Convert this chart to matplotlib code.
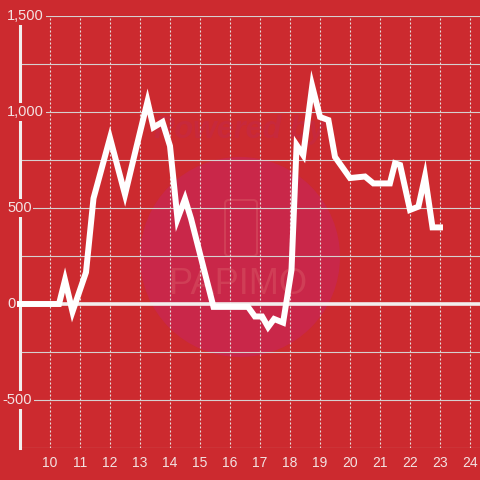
import matplotlib
matplotlib.use('Agg')
import matplotlib.pyplot as plt
import numpy as np
from matplotlib.patches import Circle, FancyBboxPatch

# time of day (hours) and value
hours = [9.0, 10.3, 10.5, 10.75, 11.2, 11.45, 12.0, 12.5, 12.9, 13.25,
         13.45, 13.75, 14.0, 14.25, 14.5, 14.7, 15.45, 16.6, 16.83, 17.07,
         17.27, 17.47, 17.77, 18.05, 18.22, 18.44, 18.74, 19.0, 19.28, 19.5,
         20.0, 20.5, 20.78, 21.33, 21.5, 21.67, 22.0, 22.28, 22.5, 22.75, 23.0]
values = [0, 0, 125, -40, 165, 550, 865, 570, 830, 1055,
          920, 948, 823, 443, 547, 445, -15, -15, -65, -65,
          -120, -78, -97, 177, 828, 776, 1135, 974, 958, 766,
          656, 664, 628, 628, 733, 724, 490, 507, 664, 399, 399]

x_ticks = list(range(10, 25))
y_grid = list(range(-750, 1501, 250))
y_labels = [1500, 1000, 500, 0, -500]

bg = '#cc2a2f'
txt = '#f3e2e2'
plt.rcParams['font.family'] = ['Liberation Sans', 'DejaVu Sans']

fig = plt.figure(figsize=(4.8, 4.8), dpi=100, facecolor=bg)
ax = fig.add_axes([20 / 480, 32 / 480, 460 / 480, 432 / 480], facecolor=bg)
ax.set_xlim(9, 24.3333)
ax.set_ylim(-750, 1500)

# faint watermark behind the grid
ax.add_patch(Circle((240 / 480, 1 - 257 / 480), 100 / 480, transform=fig.transFigure,
                    color='#c92749', lw=0, zorder=0.1, clip_on=False))
ax.add_patch(FancyBboxPatch((225 / 480, 1 - 256 / 480), 32 / 480, 56 / 480,
                            boxstyle='round,pad=0,rounding_size=0.008',
                            transform=fig.transFigure, fill=False,
                            ec='#d03e56', lw=1.5, zorder=0.2, clip_on=False))
ax.text(240 / 480, 1 - 130 / 480, 'Powered by', transform=fig.transFigure,
        fontsize=22, style='italic', weight='bold', color='#c7293c',
        ha='center', va='center', zorder=0.2)
ax.text(238 / 480, 1 - 284 / 480, 'PAPIMO', transform=fig.transFigure,
        fontsize=26, color='#d03e56', ha='center', va='center', zorder=0.2)

# grid
ax.set_axisbelow(True)
ax.set_yticks(y_grid)
ax.set_xticks(x_ticks)
ax.grid(axis='y', color='#d6d0d0', lw=0.8)
ax.grid(axis='x', color='#e6dede', lw=0.8, linestyle=(0, (1.8, 1.8)))
ax.axhline(0, color='#f2eeee', lw=2.6, zorder=1)

for s in ['top', 'right', 'bottom']:
    ax.spines[s].set_visible(False)
ax.spines['left'].set_color('#f2eeee')
ax.spines['left'].set_linewidth(2.2)

ax.tick_params(axis='both', length=0)
ax.tick_params(axis='x', colors=txt, labelsize=10, pad=6)
ax.set_yticklabels([])

# y labels sit over the axis line
for v in y_labels:
    xl = 7 if v >= 0 else 2.5
    ax.text((xl - 20) / 460, v, f'{v:,}', transform=ax.get_yaxis_transform(),
            fontsize=10.5, color=txt, ha='left', va='center', zorder=5,
            clip_on=False,
            bbox=dict(boxstyle='square,pad=0.12', fc=bg, ec='none'))

ax.plot(hours, values, color='white', lw=4.3, solid_capstyle='projecting',
        solid_joinstyle='miter', zorder=3, clip_on=False)

fig.savefig('out.png', dpi=100, facecolor=bg)
